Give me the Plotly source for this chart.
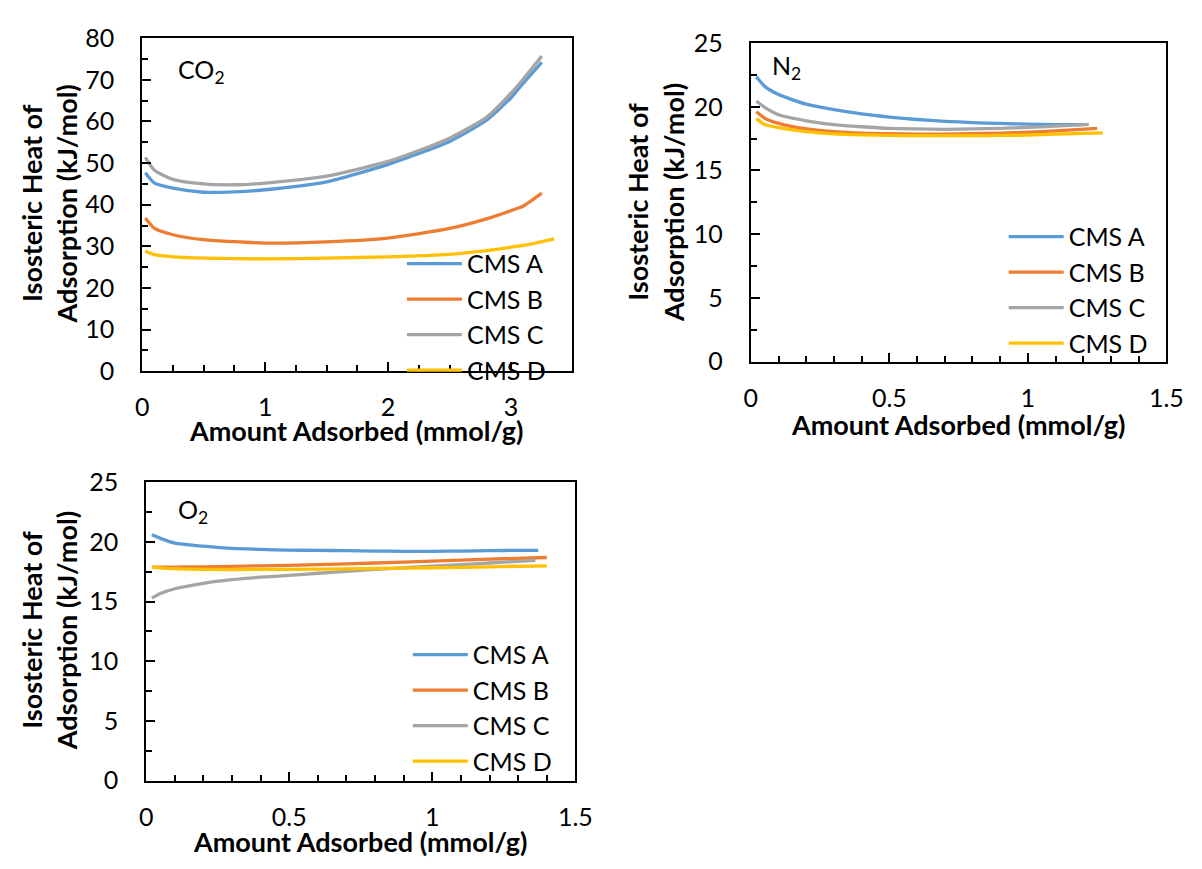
import plotly.graph_objects as go

W, H = 1202, 869
FONT = "Lato"
series_names = ["CMS A", "CMS B", "CMS C", "CMS D"]
colors = ["#5B9BD5", "#ED7D31", "#A5A5A5", "#FFC000"]

# ---------------- CO2 ----------------
co2_x_A = [0.025, 0.1, 0.25, 0.5, 0.75, 1.0, 1.5, 2.0, 2.5, 2.8, 3.0, 3.1, 3.25]
co2_y_A = [47.7, 45.2, 44.0, 43.0, 43.1, 43.6, 45.5, 49.7, 55.2, 60.3, 65.7, 69.2, 74.2]
co2_x_B = [0.025, 0.1, 0.25, 0.5, 1.0, 1.5, 2.0, 2.5, 2.8, 3.0, 3.1, 3.25]
co2_y_B = [36.8, 34.3, 32.8, 31.6, 30.8, 31.1, 32.0, 34.3, 36.6, 38.6, 39.7, 42.8]
co2_x_C = [0.025, 0.1, 0.25, 0.5, 0.75, 1.0, 1.5, 2.0, 2.5, 2.8, 3.0, 3.1, 3.25]
co2_y_C = [51.4, 48.3, 46.1, 45.0, 44.8, 45.2, 46.9, 50.4, 56.0, 61.0, 66.8, 70.2, 75.7]
co2_x_D = [0.025, 0.1, 0.25, 0.5, 1.0, 1.5, 2.0, 2.5, 2.8, 3.0, 3.2, 3.35]
co2_y_D = [28.9, 28.0, 27.5, 27.2, 27.0, 27.2, 27.5, 28.1, 29.0, 29.8, 30.8, 31.8]

# ---------------- N2 ----------------
n2_x_A = [0.02, 0.05, 0.1, 0.2, 0.3, 0.4, 0.5, 0.6, 0.7, 0.8, 0.9, 1.0, 1.1, 1.2]
n2_y_A = [22.35, 21.6, 20.96, 20.2, 19.77, 19.44, 19.19, 19.0, 18.86, 18.76, 18.69, 18.64, 18.6, 18.6]
n2_x_B = [0.02, 0.05, 0.1, 0.2, 0.3, 0.4, 0.5, 0.6, 0.7, 0.8, 0.9, 1.0, 1.1, 1.25]
n2_y_B = [19.6, 19.1, 18.7, 18.26, 18.05, 17.93, 17.88, 17.85, 17.85, 17.88, 17.93, 18.0, 18.1, 18.3]
n2_x_C = [0.02, 0.05, 0.1, 0.2, 0.3, 0.4, 0.5, 0.6, 0.7, 0.8, 0.9, 1.0, 1.1, 1.22]
n2_y_C = [20.45, 19.95, 19.37, 18.9, 18.6, 18.43, 18.3, 18.26, 18.23, 18.26, 18.3, 18.38, 18.48, 18.62]
n2_x_D = [0.02, 0.05, 0.1, 0.2, 0.3, 0.4, 0.5, 0.6, 0.7, 0.8, 0.9, 1.0, 1.1, 1.27]
n2_y_D = [19.07, 18.6, 18.36, 18.05, 17.88, 17.8, 17.75, 17.73, 17.73, 17.73, 17.75, 17.78, 17.85, 17.95]

# ---------------- O2 ----------------
o2_x_A = [0.02, 0.05, 0.1, 0.2, 0.3, 0.4, 0.5, 0.6, 0.7, 0.8, 0.9, 1.0, 1.1, 1.2, 1.3, 1.37]
o2_y_A = [20.6, 20.3, 19.9, 19.65, 19.46, 19.38, 19.32, 19.3, 19.27, 19.24, 19.22, 19.22, 19.24, 19.27, 19.3, 19.3]
o2_x_B = [0.02, 0.1, 0.2, 0.4, 0.6, 0.8, 1.0, 1.2, 1.4]
o2_y_B = [17.9, 17.9, 17.92, 18.0, 18.1, 18.24, 18.4, 18.57, 18.7]
o2_x_C = [0.02, 0.05, 0.1, 0.2, 0.3, 0.4, 0.5, 0.6, 0.7, 0.8, 0.9, 1.0, 1.1, 1.2, 1.3, 1.36]
o2_y_C = [15.3, 15.68, 16.08, 16.54, 16.84, 17.05, 17.2, 17.38, 17.54, 17.7, 17.84, 17.97, 18.1, 18.24, 18.38, 18.46]
o2_x_D = [0.02, 0.1, 0.2, 0.4, 0.6, 0.8, 1.0, 1.2, 1.4]
o2_y_D = [17.9, 17.76, 17.7, 17.7, 17.72, 17.78, 17.84, 17.92, 18.0]

panels = [
    ("x", "y", "legend", [(co2_x_A, co2_y_A), (co2_x_B, co2_y_B), (co2_x_C, co2_y_C), (co2_x_D, co2_y_D)]),
    ("x2", "y2", "legend2", [(n2_x_A, n2_y_A), (n2_x_B, n2_y_B), (n2_x_C, n2_y_C), (n2_x_D, n2_y_D)]),
    ("x3", "y3", "legend3", [(o2_x_A, o2_y_A), (o2_x_B, o2_y_B), (o2_x_C, o2_y_C), (o2_x_D, o2_y_D)]),
]

fig = go.Figure()
for xa, ya, lg, data in panels:
    for name, col, (xs, ys) in zip(series_names, colors, data):
        fig.add_trace(go.Scatter(x=xs, y=ys, mode="lines", name=name, xaxis=xa, yaxis=ya,
                                 legend=lg, line=dict(color=col, width=3.3, shape="spline", smoothing=0.6)))

def px_dom_x(a, b):
    return [a / W, b / W]

def px_dom_y(top, bottom):
    return [1 - bottom / H, 1 - top / H]

tickfont = dict(family=FONT, size=25, color="black")

def axis(dom, rng, dtick, mdtick, anchor, standoff):
    return dict(domain=dom, range=rng, dtick=dtick, tick0=0, anchor=anchor, showgrid=False, zeroline=False,
                showline=True, mirror=True, linecolor="black", linewidth=2,
                ticks="inside", ticklen=9, tickwidth=2, tickcolor="black", tickfont=tickfont,
                ticklabelstandoff=standoff,
                minor=dict(dtick=mdtick, tick0=0, ticks="inside", ticklen=6, tickwidth=2, tickcolor="black", showgrid=False))

co2_dx = px_dom_x(138, 577); co2_dy = px_dom_y(23, 368)
n2_dx = px_dom_x(759, 1183); n2_dy = px_dom_y(28, 358)
o2_dx = px_dom_x(142, 580); o2_dy = px_dom_y(483, 792)

fig.update_layout(
    width=W, height=H, margin=dict(l=0, r=0, t=0, b=0),
    paper_bgcolor="white", plot_bgcolor="white",
    xaxis=axis(co2_dx, [0, 3.5], 1, 0.25, "y", 13),
    yaxis=axis(co2_dy, [0, 80], 10, 5, "x", 21),
    xaxis2=axis(n2_dx, [0, 1.5], 0.5, 0.1, "y2", 13),
    yaxis2=axis(n2_dy, [0, 25], 5, 2.5, "x2", 21),
    xaxis3=axis(o2_dx, [0, 1.5], 0.5, 0.1, "y3", 13),
    yaxis3=axis(o2_dy, [0, 25], 5, 2.5, "x3", 21),
)

legfont = dict(family=FONT, size=25, color="black")
for key, lx, ly in [("legend", 403, 233), ("legend2", 1017, 205), ("legend3", 409, 638)]:
    fig.update_layout({key: dict(x=lx / W, y=1 - ly / H, xanchor="left", yanchor="top",
                                 bgcolor="rgba(0,0,0,0)", font=legfont, tracegroupgap=0,
                                 itemwidth=55)})

ann = []
titlefont = dict(family=FONT, size=27, color="black", weight="bold")
for lbl, lx, ly in [("CO<sub>2</sub>", 172, 57), ("N<sub>2</sub>", 779, 53), ("O<sub>2</sub>", 172, 513)]:
    ann.append(dict(text=lbl, xref="paper", yref="paper", x=lx / W, y=1 - ly / H, xanchor="left",
                    yanchor="middle", showarrow=False, font=dict(family=FONT, size=25, color="black")))

for cx, cy in [(43, 195), (662, 193), (43, 637)]:
    ann.append(dict(text="Isosteric Heat of<br>Adsorption (kJ/mol)", textangle=-90, xref="paper", yref="paper",
                    x=cx / W, y=1 - cy / H, xanchor="center", yanchor="middle", showarrow=False,
                    font=titlefont))
for cx, cy in [(357, 429), (971, 423), (361, 855)]:
    ann.append(dict(text="Amount Adsorbed (mmol/g)", xref="paper", yref="paper",
                    x=cx / W, y=1 - cy / H, xanchor="center", yanchor="middle", showarrow=False,
                    font=titlefont))
fig.update_layout(annotations=ann)

fig.write_html("out.html")
